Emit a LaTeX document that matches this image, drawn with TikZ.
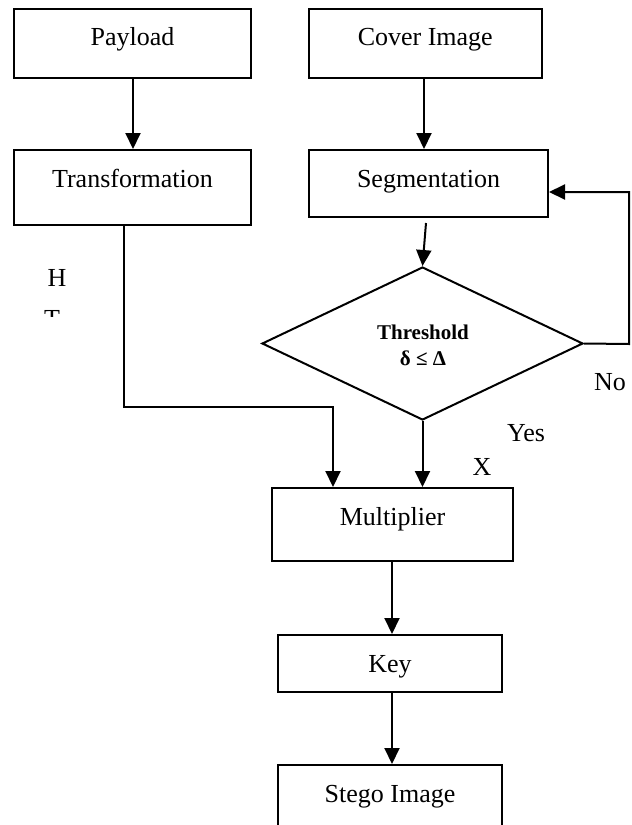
\documentclass[tikz,border=0pt]{standalone}
\usepackage{fontspec}
\setmainfont{Liberation Serif}
\usetikzlibrary{arrows.meta,shapes.geometric}
\tikzset{
  box/.style={draw,line width=2pt,inner sep=0pt,anchor=base,font=\fontsize{26}{30}\selectfont},
  lbl/.style={inner sep=0pt,anchor=base,font=\fontsize{26}{30}\selectfont},
  bl/.style={inner sep=0pt,anchor=base,font=\fontsize{21}{24}\selectfont\bfseries},
  conn/.style={line width=2pt,-{Triangle[length=16pt,width=15pt]}},
  plain/.style={line width=2pt}
}
\begin{document}
\begin{tikzpicture}[x=1pt,y=-1pt]
\useasboundingbox (0,0) rectangle (632,825);
% boxes
\node[box,minimum width=237pt,text height=36pt,text depth=33pt] (pay) at (132.5,45) {Payload};
\node[box,minimum width=232.5pt,text height=36pt,text depth=33pt] (cov) at (425.25,45) {Cover Image};
\node[box,minimum width=237pt,text height=37pt,text depth=38pt] (tra) at (132.5,187) {Transformation};
\node[box,minimum width=239pt,text height=37pt,text depth=30pt] (seg) at (428.5,187) {Segmentation};
\node[box,minimum width=241pt,text height=37pt,text depth=36pt] (mul) at (392.5,525) {Multiplier};
\node[box,minimum width=224pt,text height=37pt,text depth=20pt] (key) at (390,672) {Key};
\node[box,minimum width=224pt,text height=37pt,text depth=28pt] (ste) at (390,802) {Stego Image};
% decision
\node[diamond,draw,line width=2pt,inner sep=0pt,minimum width=321pt,minimum height=153pt] (dec) at (422.5,343.5) {};
\node[bl] (thr1) at (423,339) {Threshold};
\node[bl] (thr2) at (423,365) {δ ≤ Δ};
% connectors
\draw[conn] (pay.south -| 133,0) -- (tra.north -| 133,0);
\draw[conn] (cov.south -| 424,0) -- (seg.north -| 424,0);
\coordinate (segout) at (426,223);
\draw[conn] (segout) -- (dec.north);
\coordinate (fb) at (629,344);
\draw[conn] (dec.east) -- (fb) -- (fb |- 0,192) -- (seg.east |- 0,192);
\coordinate (tl) at (124,407);
\draw[conn] (tra.south -| tl) -- (tl) -- (333,407) -- (mul.north -| 333,0);
\draw[conn] (dec.south) -- (mul.north -| dec.south);
\draw[conn] (mul.south -| 392,0) -- (key.north -| 392,0);
\draw[conn] (key.south -| 392,0) -- (ste.north -| 392,0);
% labels
\node[lbl] (no) at (610,390) {No};
\node[lbl] (yes) at (526,441) {Yes};
\node[lbl] (x) at (482,475) {X};
\node[lbl] (h) at (57,286) {H};
\begin{scope}
\clip (30,300) rectangle (80,316);
\node[lbl] (t) at (52,327) {T};
\end{scope}
\end{tikzpicture}
\end{document}
